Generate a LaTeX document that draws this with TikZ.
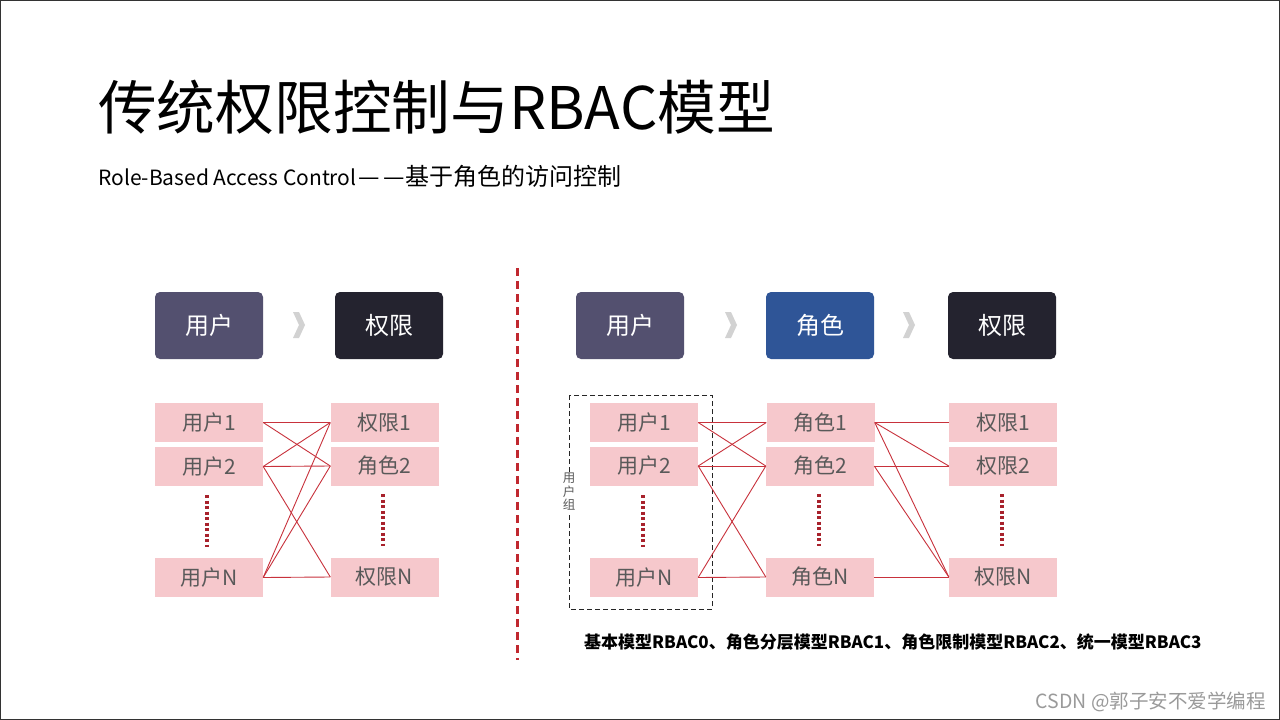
\documentclass[tikz,border=0pt]{standalone}
\usepackage{fontspec}
\setmainfont{Noto Sans CJK SC}
\definecolor{userc}{HTML}{53506F}
\definecolor{permc}{HTML}{24232F}
\definecolor{rolec}{HTML}{2F5597}
\definecolor{pinkc}{HTML}{F6C8CC}
\definecolor{txtc}{HTML}{595959}
\definecolor{linec}{HTML}{C8323C}
\definecolor{dotc}{HTML}{A8222C}
\definecolor{divc}{HTML}{C0282F}
\definecolor{chevc}{HTML}{D2D2D2}
\definecolor{wmc}{HTML}{9A9A9A}
\begin{document}
\begin{tikzpicture}[x=1pt,y=-1pt,
 hdr/.style={rounded corners=5pt, minimum width=108pt, minimum height=67pt, inner sep=0pt, text=white, font=\fontsize{24}{28}\selectfont},
 pbox/.style={fill=pinkc, minimum width=108pt, minimum height=39pt, inner sep=0pt, text=txtc, font=\fontsize{21}{24}\selectfont},
 link/.style={draw=linec, line width=0.9pt},
 dots/.style={draw=dotc, line width=3.5pt, dash pattern=on 3pt off 2.5pt},
 chev/.style={fill=chevc, draw=none}]
\useasboundingbox (0,0) rectangle (1280,720);
\fill[white] (0,0) rectangle (1280,720);
\draw[line width=1pt, black!80] (0.5,0.5) rectangle (1279.5,719.5);
% titles
\node[anchor=base west, inner sep=0pt, font=\fontsize{58.7}{70}\selectfont] (title) at (98,129) {传统权限控制与RBAC模型};
\node[anchor=base west, inner sep=0pt, font=\fontsize{24}{28}\selectfont] (sub) at (98,185) {{\fontsize{21}{24}\selectfont Role-Based Access Control}\hspace{2pt}—\hspace{3pt}—\hspace{1pt}基于角色的访问控制};
% divider
\draw[divc, line width=3pt, dash pattern=on 8pt off 5pt] (517,268) -- (517,660);
% chevrons
\foreach \cx in {299,731,909}{
  \fill[chevc] (\cx-6,312) -- (\cx,312) -- (\cx+6,325) -- (\cx,338) -- (\cx-6,338) -- (\cx,325) -- cycle;
}
% left headers
\node[hdr, fill=userc] (Lhu) at (209,325.5) {用户};
\node[hdr, fill=permc] (Lhp) at (389,325.5) {权限};
% left boxes
\node[pbox] (Lu1) at (209,422.5) {用户1};
\node[pbox] (Lu2) at (209,466.5) {用户2};
\node[pbox] (LuN) at (209,577.5) {用户N};
\node[pbox] (Lp1) at (384.5,422.5) {权限1};
\node[pbox] (Lr2) at (384.5,466) {角色2};
\node[pbox] (LpN) at (384.5,577) {权限N};
\draw[dots] (207,495) -- (207,547);
\draw[dots] (383,494) -- (383,546);
\draw[link] (Lu1.east) -- (Lp1.west);
\draw[link] (Lu1.east) -- (Lr2.west);
\draw[link] (Lu2.east) -- (Lp1.west);
\draw[link] (Lu2.east) -- (Lr2.west);
\draw[link] (Lu2.east) -- (LpN.west);
\draw[link] (LuN.east) -- (Lp1.west);
\draw[link] (LuN.east) -- (Lr2.west);
\draw[link] (LuN.east) -- (LpN.west);
% right headers
\node[hdr, fill=userc] (Rhu) at (630,325.5) {用户};
\node[hdr, fill=rolec] (Rhr) at (820,325.5) {角色};
\node[hdr, fill=permc] (Rhp) at (1002,325.5) {权限};
% user group
\draw[black!85, line width=0.9pt, dash pattern=on 5pt off 3pt] (569,395) rectangle (712,609);
\node[fill=white, inner sep=1pt, text=txtc, align=center, font=\fontsize{12.5}{13.5}\selectfont] (grp) at (569,492) {用\\户\\组};
% right boxes
\node[pbox] (Ru1) at (644,422.5) {用户1};
\node[pbox] (Ru2) at (644,466) {用户2};
\node[pbox] (RuN) at (644,577.5) {用户N};
\node[pbox] (Rr1) at (820.5,422.5) {角色1};
\node[pbox] (Rr2) at (820,466) {角色2};
\node[pbox] (RrN) at (820,577) {角色N};
\node[pbox] (Rp1) at (1003,422.5) {权限1};
\node[pbox] (Rp2) at (1003,466) {权限2};
\node[pbox] (RpN) at (1003,577) {权限N};
\draw[dots] (643,495) -- (643,547);
\draw[dots] (819,494) -- (819,546);
\draw[dots] (1002,494) -- (1002,546);
\draw[link] (Ru1.east) -- (Rr1.west);
\draw[link] (Ru1.east) -- (Rr2.west);
\draw[link] (Ru2.east) -- (Rr1.west);
\draw[link] (Ru2.east) -- (Rr2.west);
\draw[link] (Ru2.east) -- (RrN.west);
\draw[link] (RuN.east) -- (Rr2.west);
\draw[link] (RuN.east) -- (RrN.west);
\draw[link] (Rr1.east) -- (Rp1.west);
\draw[link] (Rr1.east) -- (Rp2.west);
\draw[link] (Rr1.east) -- (RpN.west);
\draw[link] (Rr2.east) -- (Rp2.west);
\draw[link] (Rr2.east) -- (RpN.west);
\draw[link] (RrN.east) -- (RpN.west);
% bottom text
\node[anchor=base west, inner sep=0pt, font=\bfseries\fontsize{17}{20}\selectfont] (models) at (584,648) {基本模型RBAC0、角色分层模型RBAC1、角色限制模型RBAC2、统一模型RBAC3};
% watermark
\node[anchor=base east, inner sep=0pt, text=wmc, font=\fontsize{19.5}{22}\selectfont] (wm) at (1266,708) {CSDN @郭子安不爱学编程};
\end{tikzpicture}
\end{document}
